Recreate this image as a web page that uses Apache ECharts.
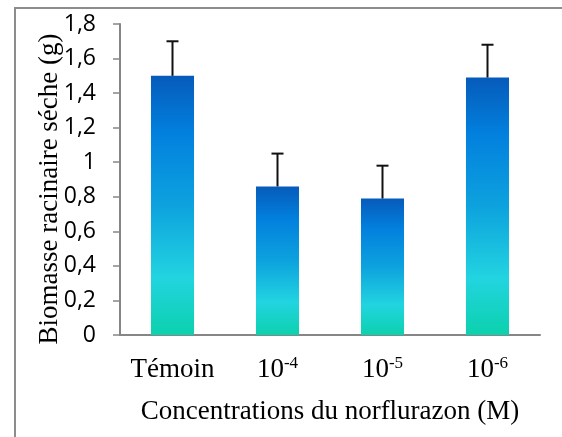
<!DOCTYPE html>
<html><head><meta charset="utf-8">
<script src="https://cdn.jsdelivr.net/npm/echarts@6/dist/echarts.min.js"></script>
<style>html,body{margin:0;padding:0;background:#fff}#c{width:562px;height:437px}</style>
</head><body><div id="c"></div>
<script>
var categories = ['Témoin', '10{sup|-4}', '10{sup|-5}', '10{sup|-6}'];
var biomass = [1.50, 0.86, 0.79, 1.49];
var errorUpper = [1.70, 1.05, 0.98, 1.68];
var yTicks = {min: 0, max: 1.8, interval: 0.2};

var chart = echarts.init(document.getElementById('c'), null, {renderer: 'canvas'});
var grad = new echarts.graphic.LinearGradient(0, 0, 0, 1, [
  {offset: 0, color: '#065BBA'},
  {offset: 0.22, color: '#0280DE'},
  {offset: 0.5, color: '#0DA2DE'},
  {offset: 0.78, color: '#22D4E0'},
  {offset: 1, color: '#0CD1AD'}
]);
var errData = categories.map(function (c, i) { return [i, biomass[i], errorUpper[i]]; });

chart.setOption({
  animation: false,
  grid: {left: 120, right: 22, top: 24, bottom: 102},
  graphic: [
    {type: 'rect', shape: {x: 15, y: 8, width: 700, height: 600}, style: {fill: 'none', stroke: '#8c8c8c', lineWidth: 2}, z: -10},
    {type: 'text', x: 50, y: 189, rotation: Math.PI / 2,
     style: {text: 'Biomasse racinaire séche (g)', font: '27px "Liberation Serif"', fill: '#000', align: 'center', verticalAlign: 'middle'}}
  ],
  xAxis: {
    type: 'category', data: categories,
    name: 'Concentrations du norflurazon (M)', nameLocation: 'middle', nameGap: 63,
    nameTextStyle: {fontFamily: 'Liberation Serif', fontSize: 27, color: '#000'},
    axisLine: {lineStyle: {color: '#868686', width: 2}},
    axisTick: {show: false},
    axisLabel: {
      interval: 0,
      margin: 20, color: '#000', fontFamily: 'Liberation Serif', fontSize: 27, lineHeight: 30,
      rich: {sup: {fontFamily: 'Liberation Serif', fontSize: 17, lineHeight: 17, verticalAlign: 'top', color: '#000'}}
    }
  },
  yAxis: {
    type: 'value', min: yTicks.min, max: yTicks.max, interval: yTicks.interval,
    splitLine: {show: false},
    axisLine: {show: true, lineStyle: {color: '#868686', width: 2}},
    axisTick: {show: true, length: 7, lineStyle: {color: '#868686', width: 1.5}},
    axisLabel: {
      margin: 24, color: '#000', fontFamily: 'Open Sans', fontSize: 23,
      formatter: function (v) { return (Math.round(v * 10) / 10).toString().replace('.', ','); }
    }
  },
  series: [
    {type: 'bar', data: biomass, barWidth: '41%', itemStyle: {color: grad}},
    {type: 'custom', data: errData, z: 5,
     renderItem: function (params, api) {
       var x = api.value(0);
       var p0 = api.coord([x, api.value(1)]);
       var p1 = api.coord([x, api.value(2)]);
       var hw = 6;
       return {type: 'group', children: [
         {type: 'line', shape: {x1: p0[0], y1: p0[1], x2: p1[0], y2: p1[1]}, style: {stroke: '#111', lineWidth: 2}},
         {type: 'line', shape: {x1: p1[0] - hw, y1: p1[1], x2: p1[0] + hw, y2: p1[1]}, style: {stroke: '#111', lineWidth: 2}}
       ]};
     }}
  ]
});
</script></body></html>
